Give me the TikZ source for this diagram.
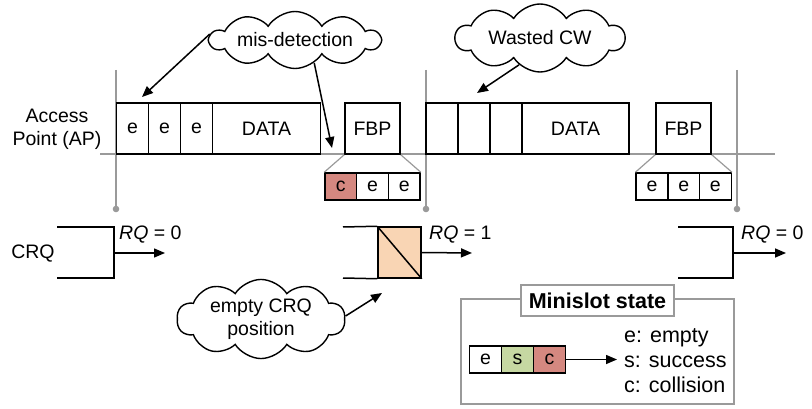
\documentclass[tikz,border=0pt]{standalone}
\usepackage{fontspec}
\setmainfont{Liberation Sans}
\usetikzlibrary{arrows.meta,shapes.symbols}
\definecolor{colred}{HTML}{D58880}
\definecolor{colgreen}{HTML}{C6D8A2}
\definecolor{colorange}{HTML}{F9D5B4}
\definecolor{rulegray}{HTML}{9A9A9A}

\begin{document}
\begin{tikzpicture}[x=1pt,y=-1pt,
  every node/.style={font=\fontsize{19.5}{23}\selectfont},
  slot/.style={draw, line width=1.5pt, fill=white, minimum height=51pt, inner sep=0pt},
  mini/.style={draw, line width=1.5pt, fill=white, minimum height=27pt, minimum width=31.7pt, inner sep=0pt},
  blob/.style={cloud, draw, line width=1.4pt, fill=white, cloud puffs=10, cloud puff arc=115, cloud ignores aspect, inner sep=0pt, align=center},
  arr/.style={line width=1.5pt, -{Triangle[length=11pt,width=9pt]}},
  guide/.style={rulegray, line width=1.2pt},
  queue/.style={line width=1.5pt}
]
\useasboundingbox (0,0) rectangle (812,409);

% time axis of the access point
\coordinate (axL) at (100,154);
\coordinate (axR) at (775,154);
\draw[guide] (axL) -- (axR);

% frame boundaries with their markers
\foreach \n/\x in {a/116,b/426,c/737}{
  \coordinate (vt\n) at (\x,70);
  \coordinate (vb\n) at (\x,209);
  \draw[guide] (vt\n) -- (vb\n);
  \fill[rulegray] (vb\n) circle (3.3pt);
}

\node[align=center] (ap) at (57,129) {Access\\Point (AP)};

% first frame
\node[slot, minimum width=32pt] (f1e1) at (132.5,128.5) {e};
\node[slot, minimum width=32pt] (f1e2) at (164.5,128.5) {e};
\node[slot, minimum width=32pt] (f1e3) at (196.5,128.5) {e};
\node[slot, minimum width=108pt] (f1d) at (266.5,128.5) {DATA};
\node[slot, minimum width=55pt] (fbp1) at (372.5,128.5) {FBP};

\node[mini, fill=colred] (m1a) at (340.8,186.5) {c};
\node[mini] (m1b) at (372.5,186.5) {e};
\node[mini] (m1c) at (404.2,186.5) {e};
\draw[guide] (fbp1.south west) -- (m1a.north west);
\draw[guide] (fbp1.south east) -- (m1c.north east);

% second frame
\node[slot, minimum width=32pt] (f2e1) at (442,128.5) {};
\node[slot, minimum width=32pt] (f2e2) at (474,128.5) {};
\node[slot, minimum width=32pt] (f2e3) at (506,128.5) {};
\node[slot, minimum width=107pt] (f2d) at (575.5,128.5) {DATA};
\node[slot, minimum width=55pt] (fbp2) at (683.5,128.5) {FBP};

\node[mini] (m2a) at (652,186.5) {e};
\node[mini] (m2b) at (683.7,186.5) {e};
\node[mini] (m2c) at (715.4,186.5) {e};
\draw[guide] (fbp2.south west) -- (m2a.north west);
\draw[guide] (fbp2.south east) -- (m2c.north east);

% annotation clouds
\node[blob, minimum width=170pt, minimum height=57pt] (mis) at (295,40) {mis-detection};
\node[blob, minimum width=169pt, minimum height=68pt] (waste) at (540,38) {Wasted CW};
\node[blob, minimum width=168pt, minimum height=72pt] (ecrq) at (261,319) {empty CRQ\\position};

\coordinate (misA) at (142,97);
\coordinate (misB) at (332,148);
\coordinate (wasteA) at (477,93);
\coordinate (ecrqA) at (382,293);
\draw[arr] (mis.176) -- (misA);
\draw[arr] (mis.-50) -- (misB);
\draw[arr] (waste.-128) -- (wasteA);
\draw[arr] (ecrq.2) -- (ecrqA);

% collision resolution queue, three snapshots
\node (crq) at (33,254) {CRQ};
\coordinate (q1t) at (57,227);
\coordinate (q1r) at (114,227);
\coordinate (q1s) at (114,278);
\coordinate (q1b) at (57,278);
\coordinate (q1o) at (114,253);
\coordinate (q1e) at (165,253);
\draw[queue] (q1t) -- (q1r) -- (q1s) -- (q1b);
\draw[arr] (q1o) -- (q1e);
\node[anchor=west, inner sep=0pt] (rq1) at (119,235) {\textit{RQ} = 0};

\node[draw, line width=1.5pt, fill=colorange, minimum width=43pt, minimum height=51pt, inner sep=0pt] (pos) at (399.5,252.5) {};
\draw[line width=1.5pt] (pos.north west) -- (pos.south east);
\coordinate (q2t) at (343,227);
\coordinate (q2b) at (343,278);
\coordinate (q2e) at (472,253);
\draw[queue] (q2t) -- (pos.north west);
\draw[queue] (q2b) -- (pos.south west);
\draw[arr] (pos.east) -- (q2e);
\node[anchor=west, inner sep=0pt] (rq2) at (429,235) {\textit{RQ} = 1};

\coordinate (q3t) at (678,227);
\coordinate (q3r) at (733,227);
\coordinate (q3s) at (733,278);
\coordinate (q3b) at (678,278);
\coordinate (q3o) at (733,253);
\coordinate (q3e) at (786,253);
\draw[queue] (q3t) -- (q3r) -- (q3s) -- (q3b);
\draw[arr] (q3o) -- (q3e);
\node[anchor=west, inner sep=0pt] (rq3) at (741,235) {\textit{RQ} = 0};

% legend of minislot states
\node[draw=rulegray, line width=1.2pt, minimum width=273pt, minimum height=105pt, inner sep=0pt] (legend) at (597.5,351.5) {};
\node[draw=rulegray, line width=1.2pt, fill=white, minimum width=153pt, minimum height=31pt, inner sep=0pt,
      font=\fontsize{21.5}{25}\selectfont\bfseries] (ltitle) at (597.5,300.5) {Minislot state};
\node[mini] (le) at (485.5,359.5) {e};
\node[mini, fill=colgreen] (ls) at (517.5,359.5) {s};
\node[mini, fill=colred] (lc) at (549.5,359.5) {c};
\coordinate (lend) at (617,359.5);
\draw[arr] (lc.east) -- (lend);
\node[anchor=west, align=left, inner sep=0pt, font=\fontsize{21.5}{25}\selectfont] (ltext) at (624,361) {e: empty\\s: success\\c: collision};

\end{tikzpicture}
\end{document}
